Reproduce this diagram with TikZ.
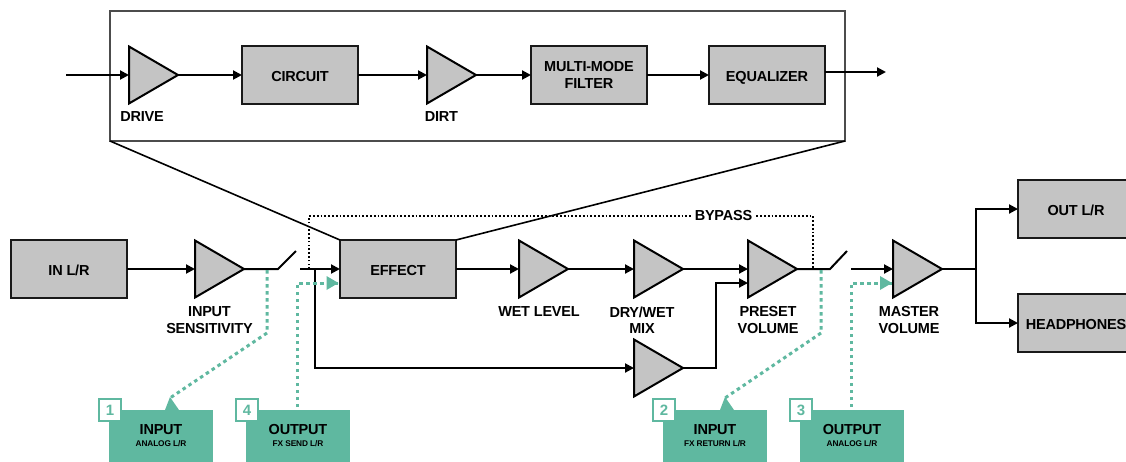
\documentclass[tikz,border=0pt]{standalone}
\usepackage{fontspec}
\setmainfont[LetterSpace=-1.5]{Liberation Sans}
\usetikzlibrary{arrows.meta,shapes.geometric}
\definecolor{boxgray}{HTML}{C4C4C4}
\definecolor{sendgreen}{HTML}{5FB8A0}
\tikzset{
	blockbox/.style = {draw=black!90, line width=2pt, fill=boxgray, outer sep=0pt, minimum width=116pt, minimum height=58pt, inner sep=0pt, align=center, font=\fontsize{14.5}{17}\selectfont\bfseries},
	oneline/.style = {text height=12pt, text depth=0pt},
	amp/.style = {draw=black, line width=2pt, fill=boxgray, outer sep=0pt, isosceles triangle, isosceles triangle apex angle=60, isosceles triangle stretches, minimum width=57pt, minimum height=49pt, inner sep=0pt, anchor=lower side},
	lbl/.style = {align=center, inner sep=0pt, font=\fontsize{14.5}{16.5}\selectfont\bfseries},
	wire/.style = {line width=2pt, -{Triangle[length=9pt,width=9pt]}},
	plain/.style = {line width=2pt},
	bypassline/.style = {line width=1.7pt, dash pattern=on 1.7pt off 2.1pt},
	sendline/.style = {draw=sendgreen, line width=3pt, dash pattern=on 3.5pt off 3.5pt},
	sendtip/.style = {sendgreen, line width=0pt, fill=sendgreen},
	sendbox/.style = {fill=sendgreen, minimum width=104pt, minimum height=60pt, inner sep=0pt, anchor=north west, align=center, text=black},
	numbox/.style = {draw=sendgreen, line width=2.5pt, fill=white, text=sendgreen, minimum size=22pt, inner sep=0pt, font=\fontsize{15}{16}\selectfont\bfseries},
	sendtext/.style = {align=center, inner sep=0pt, font=\fontsize{14.5}{13}\selectfont\bfseries},
}
\newcommand{\sendsub}[1]{\\[-1pt]{\fontsize{8.3}{8}\selectfont\bfseries #1}}
\begin{document}
\begin{tikzpicture}[x=1pt, y=-1pt]
	\useasboundingbox (0,0) rectangle (1126,461);
	% detail of the effect
	\node[draw=black!70, line width=2pt, outer sep=0pt, minimum width=735pt, minimum height=130pt, inner sep=0pt] (detail) at (477.5,76) {};
	\coordinate (start) at (66,75);
	\node[amp] (drive) at (129,75) {};
	\node[blockbox, oneline] (circuit) at (300,75) {CIRCUIT};
	\node[amp] (dirt) at (427,75) {};
	\node[blockbox] (filter) at (589,75) {MULTI-MODE\\FILTER};
	\node[blockbox, oneline] (eq) at (767,75) {EQUALIZER};
	\coordinate (stop) at (886,72);
	\node[lbl] (drivetext) at (142,117) {DRIVE};
	\node[lbl] (dirttext) at (441.5,117) {DIRT};
	\draw[wire] (start) to (drive.lower side);
	\draw[wire] (drive.apex) to (circuit);
	\draw[wire] (circuit) to (dirt.lower side);
	\draw[wire] (dirt.apex) to (filter);
	\draw[wire] (filter) to (eq);
	\draw[wire] (eq.east |- stop) to (stop);

	% main path
	\node[blockbox, oneline] (in) at (69,269) {IN L/R};
	\node[amp] (sens) at (195,269) {};
	\node[blockbox, oneline] (effect) at (398,269) {EFFECT};
	\node[amp] (wet) at (519,269) {};
	\node[amp] (mix) at (634,269) {};
	\node[amp] (preset) at (748,269) {};
	\node[amp] (dry) at (634,368) {};
	\node[amp] (master) at (893,269) {};
	\node[blockbox, oneline] (out) at (1076,209) {OUT L/R};
	\node[blockbox, oneline] (phones) at (1076,323) {HEADPHONES};
	\node[lbl] (senstext) at (209.5,320) {INPUT\\SENSITIVITY};
	\node[lbl] (wettext) at (539,312) {WET LEVEL};
	\node[lbl] (mixtext) at (642,320) {DRY/WET\\MIX};
	\node[lbl] (presettext) at (768,320) {PRESET\\VOLUME};
	\node[lbl] (mastertext) at (909,320) {MASTER\\VOLUME};
	\node[lbl, inner xsep=4pt] (bypass) at (723.5,216) {BYPASS};

	\draw[line width=1.6pt] (detail.south west) to (effect.north west);
	\draw[line width=1.6pt] (detail.south east) to (effect.north east);

	\coordinate (sw1a) at (278,269);
	\coordinate (sw1b) at (296,251);
	\coordinate (sw1c) at (300,269);
	\coordinate (branch) at (315,269);
	\coordinate (by1) at (309,269);
	\coordinate (by2) at (813,269);
	\coordinate (sw2a) at (830,269);
	\coordinate (sw2b) at (847,251);
	\coordinate (sw2c) at (851,269);
	\coordinate (fork) at (976,269);
	\coordinate (presetin) at (748,283);

	\draw[wire] (in) to (sens.lower side);
	\draw[plain] (sens.apex) to (sw1a) to (sw1b);
	\draw[wire] (sw1c) to (effect.west |- sw1c);
	\draw[wire] (effect.east |- wet.lower side) to (wet.lower side);
	\draw[wire] (wet.apex) to (mix.lower side);
	\draw[wire] (mix.apex) to (preset.lower side);
	\draw[plain] (preset.apex) to (sw2a) to (sw2b);
	\draw[wire] (sw2c) to (master.lower side);
	\draw[plain] (master.apex) to (fork);
	\draw[wire] (fork) |- (out.west);
	\draw[wire] (fork) |- (phones.west);
	\draw[wire] (branch) |- (dry.lower side);
	\draw[wire] (dry.apex) -| (716,283) to (presetin);
	\draw[bypassline] (by1) |- (bypass.west);
	\draw[bypassline] (bypass.east) -| (by2);

	% send and return
	\node[sendbox] (ret1) at (109,410) {};
	\node[sendbox] (ret4) at (246,410) {};
	\node[sendbox] (ret2) at (663,410) {};
	\node[sendbox] (ret3) at (800,410) {};
	\node[sendtext] (ret1text) at (161,436) {INPUT\sendsub{ANALOG L/R}};
	\node[sendtext] (ret4text) at (298,436) {OUTPUT\sendsub{FX SEND L/R}};
	\node[sendtext] (ret2text) at (715,436) {INPUT\sendsub{FX RETURN L/R}};
	\node[sendtext] (ret3text) at (852,436) {OUTPUT\sendsub{ANALOG L/R}};
	\node[numbox] (n1) at (110,410) {1};
	\node[numbox] (n4) at (247,410) {4};
	\node[numbox] (n2) at (664,410) {2};
	\node[numbox] (n3) at (801,410) {3};

	\coordinate (tap1) at (267,270);
	\coordinate (bend1) at (267,333);
	\coordinate (tip1) at (170,398);
	\coordinate (tap2) at (821,270);
	\coordinate (bend2) at (821,333);
	\coordinate (tip2) at (725,398);
	\coordinate (tip4) at (338.5,283);
	\coordinate (tip3) at (892,283);
	\coordinate (foot4) at (297,407);
	\coordinate (foot3) at (851,407);
	\coordinate (up4) at (297,283);
	\coordinate (up3) at (851,283);

	\draw[sendline] (tap1) to (bend1) to (tip1);
	\draw[sendline] (tap2) to (bend2) to (tip2);
	\draw[sendline] (foot4) to (up4) to (tip4);
	\draw[sendline] (foot3) to (up3) to (tip3);
	\fill[sendtip] (tip1) ++(-5,12) -- ++(5,-13) -- ++(9,13) -- cycle;
	\fill[sendtip] (tip2) ++(-5,12) -- ++(5,-13) -- ++(9,13) -- cycle;
	\fill[sendtip] (tip4) -- ++(-12,-7) -- ++(0,14) -- cycle;
	\fill[sendtip] (tip3) -- ++(-12,-7) -- ++(0,14) -- cycle;
\end{tikzpicture}
\end{document}
